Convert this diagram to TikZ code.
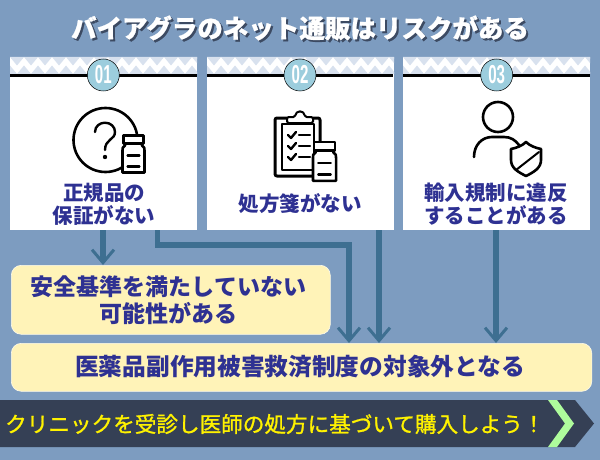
\documentclass[tikz,border=0pt]{standalone}
\usepackage{fontspec}
\setmainfont{Noto Sans CJK JP}
\newfontfamily\numfont{Liberation Sans}
\newfontfamily\banfont[FakeBold=1.2]{Noto Sans CJK JP}
\usetikzlibrary{arrows.meta}
\definecolor{bgc}{HTML}{7D9CC0}
\definecolor{txtc}{HTML}{2E3192}
\definecolor{arc}{HTML}{3E6F91}
\definecolor{yel}{HTML}{FFF3B8}
\definecolor{ban}{HTML}{354055}
\definecolor{tri}{HTML}{D8E1EE}
\definecolor{numc}{HTML}{9CCDDD}
\definecolor{shad}{HTML}{3C4A62}
\definecolor{grn}{HTML}{AEFC9C}
\newcommand{\bandpat}[1]{%
  \begin{scope}
    \clip (#1,57) rectangle ++(187,17);
    \foreach \k in {-1,...,14}{
      \fill[tri] ({#1+\k*14},57) -- ++(14,0) -- ++(-7,8.5) -- cycle;
      \fill[tri] ({#1+\k*14+7},74) -- ++(14,0) -- ++(-7,-8.5) -- cycle;
      \fill[tri] ({#1+\k*14+1.5},57) rectangle ++(11,2);
      \fill[tri] ({#1+\k*14+8.5},74) rectangle ++(11,-2);
    }
  \end{scope}}
\tikzset{
  x=1pt,y=-1pt,
  cardbox/.style={fill=white,draw=none,anchor=north west,minimum width=187pt,minimum height=173pt,inner sep=0},
  yelbox/.style={fill=yel,draw=white!70!yel,line width=.6pt,rounded corners=10pt,anchor=north west,inner sep=0},
  cardtxt/.style={text=txtc,font=\fontsize{20.5}{23}\selectfont\bfseries,align=center,inner sep=0},
  yeltxt/.style={text=txtc,font=\fontsize{23}{27}\selectfont\bfseries,align=center,inner sep=0},
  numnode/.style={circle,fill=numc,draw=black,line width=.5pt,minimum size=32pt,inner sep=0,text=white},
  flow/.style={draw=arc,line width=5.5pt,-{Straight Barb[length=13pt,width=22pt,line width=3pt]}},
  ic/.style={draw=black,line width=2.6pt,line cap=round,line join=round},
  ict/.style={draw=black,line width=2pt,line cap=round,line join=round},
  titletxt/.style={font=\fontsize{25.5}{30}\selectfont\bfseries\addfontfeatures{FakeBold=0.8},inner sep=0},
}
\newcommand{\vial}[3]{% x centre, y of cap top, width scale
  \begin{scope}[shift={(#1,#2)},scale=#3]
    \path[ic,fill=white] (-8.5,8) -- (-8.5,10) .. controls (-11,12) .. (-11,15) -- (-11,37) -- (11,37) -- (11,15) .. controls (11,12) .. (8.5,10) -- (8.5,8) -- cycle;
    \path[ic,fill=white] (-10,0) rectangle (10,8);
    \path[ic,line width=2.2pt] (-6,20) -- (6,20);
    \path[ic,line width=2.2pt] (-6,31) -- (6,31);
  \end{scope}}
\newcommand{\numtxt}[1]{\numfont\bfseries\scalebox{.58}[1]{\fontsize{26}{26}\selectfont #1}}
\begin{document}
\begin{tikzpicture}
\useasboundingbox (0,0) rectangle (600,460);
\fill[bgc] (0,0) rectangle (600,460);
% title
\node[text=shad,titletxt] (titleshadow) at (302,30) {バイアグラのネット通販はリスクがある};
\node[text=white,titletxt] (title) at (300,28) {バイアグラのネット通販はリスクがある};
% connectors (below the cards)
\node[cardbox] (card1) at (10,57) {};
\node[cardbox] (card2) at (207,57) {};
\node[cardbox] (card3) at (403,57) {};
\node[yelbox,minimum width=319pt,minimum height=69pt] (safe) at (11,265) {};
\node[yelbox,minimum width=580.5pt,minimum height=48pt] (relief) at (11,343) {};
\coordinate (a2s) at (157.5,230);
\coordinate (a3s) at (379,230);
\coordinate (a4s) at (496,230);
\coordinate (a1s) at (103,230);
\coordinate (a2k1) at (157.5,245);
\coordinate (a2k2) at (349,245);
\draw[flow] (a1s) -- (a1s |- safe.north);
\draw[flow,line join=miter] (a2s) -- (a2k1) -- (a2k2) -- (a2k2 |- relief.north);
\draw[flow] (a3s) -- (a3s |- relief.north);
\draw[flow] (a4s) -- (a4s |- relief.north);
% card headers
\bandpat{10}\bandpat{207}\bandpat{403}
\fill[black] (card1.north west)++(0,17) rectangle ++(187,3);
\fill[black] (card2.north west)++(0,17) rectangle ++(186,3);
\fill[black] (card3.north west)++(0,17) rectangle ++(187,3);
\node[numnode] (n1) at (103.3,75) {\numtxt{01}};
\node[numnode] (n2) at (300,75) {\numtxt{02}};
\node[numnode] (n3) at (496.7,75) {\numtxt{03}};
% icon 1
\draw[ic] (105.5,140) circle (32);
\draw[ic,line width=2.4pt] (95,132) .. controls (95,126) and (100,122.7) .. (105,122.7) .. controls (111,122.7) and (115,127) .. (115,132) .. controls (115,140) and (105,139) .. (105,150);
\fill[black] (105,157) circle (2.2);
\vial{133.5}{135.5}{1}
% icon 2
\path[ic,line width=3pt,rounded corners=2pt] (287,118) -- (275,118) -- (275,176) -- (320,176) -- (320,118) -- (313,118);
\path[ict] (282,124) -- (282,170) -- (314,170) -- (314,124) -- cycle;
\path[ict,fill=white,rounded corners=1.5pt] (287,123) -- (287,117) -- (295,117) .. controls (296,110) and (304,110) .. (305,117) -- (313,117) -- (313,123) -- cycle;
\foreach \yy in {135,146,157}{
  \path[ict,line width=2.4pt] (288,\yy) -- (291,{\yy+3}) -- (296,{\yy-3});
  \path[ict,line width=2.2pt] (299,\yy) -- (310,\yy);
}
\vial{324.5}{142}{1.05}
% icon 3
\draw[ic] (498,117) circle (15);
\path[ic] (474,157) .. controls (474,145) and (482,137) .. (492,137) -- (504,137) .. controls (511,137) and (515,140) .. (519,145);
\path[ic,fill=white] (526,142) .. controls (530,146) and (536,148) .. (541,149) -- (541,160) .. controls (541,168) and (534,172) .. (526,176) .. controls (518,172) and (511,168) .. (511,160) -- (511,149) .. controls (516,148) and (522,146) .. (526,142) -- cycle;
\path[ict] (516,170) -- (539,152);
% card text
\node[cardtxt] (t1) at (104,204) {正規品の\\保証がない};
\node[cardtxt] (t2) at (300,204) {処方箋がない};
\node[cardtxt] (t3) at (496,204.5) {輸入規制に違反\\することがある};
% yellow text
\node[yeltxt] (t4) at (168.5,300) {安全基準を満たしていない\\可能性がある};
\node[yeltxt,font=\fontsize{23.7}{27}\selectfont\bfseries] (t5) at (300,367) {医薬品副作用被害救済制度の対象外となる};
% banner
\path[fill=ban] (0,400) -- (575,400) -- (594,423.5) -- (575,447) -- (0,447) -- cycle;
\path[fill=grn] (548,400) -- (557,400) -- (574,423.5) -- (557,447) -- (548,447) -- (565,423.5) -- cycle;
\node[text=yellow,font=\banfont\fontsize{21.6}{25}\selectfont,inner sep=0,anchor=west] (t6) at (5,424) {クリニックを受診し医師の処方に基づいて購入しよう！};
\end{tikzpicture}
\end{document}
